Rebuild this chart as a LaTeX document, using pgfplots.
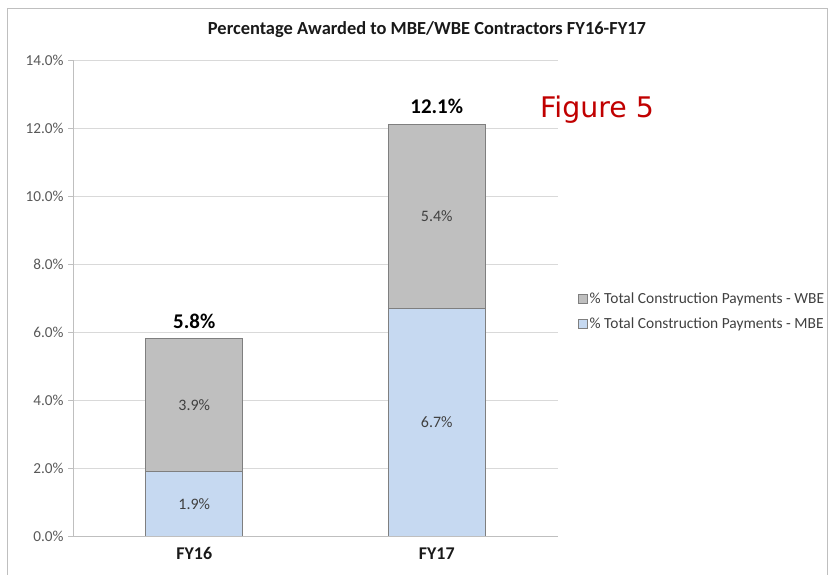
\documentclass[border=0pt]{standalone}
\usepackage{pgfplots}
\pgfplotsset{compat=1.18}
\usepackage{fontspec}
\setmainfont{Carlito}
\newfontfamily\figfont{DejaVu Sans}
\definecolor{wbe}{HTML}{BFBFBF}
\definecolor{mbe}{HTML}{C6D9F1}
\definecolor{barline}{HTML}{7F7F7F}
\definecolor{gridc}{HTML}{D9D9D9}
\definecolor{axc}{HTML}{BFBFBF}
\definecolor{tickc}{HTML}{595959}
\definecolor{labc}{HTML}{404040}
\definecolor{figred}{HTML}{C00000}
\begin{document}
\begin{tikzpicture}[x=1bp,y=1bp]
\useasboundingbox (0,0) rectangle (831,575);
\draw[color=axc,line width=0.8bp] (7,-10) rectangle (827,567);
\node[font=\fontsize{18.5}{21}\selectfont\bfseries, text=black!90] at (427,545) {Percentage Awarded to MBE/WBE Contractors FY16-FY17};
\node[font=\fontsize{28.5}{32}\selectfont\figfont, text=figred] at (597,465) {Figure 5};
\begin{axis}[
  at={(73bp,39bp)}, anchor=south west,
  scale only axis, width=485bp, height=476bp,
  ybar stacked, bar width=0.4,
  xmin=-0.5, xmax=1.5, ymin=0, ymax=14,
  xtick={0,1}, xticklabels={FY16,FY17},
  xtick style={draw=none},
  x tick label style={font=\fontsize{18}{20}\selectfont\bfseries, text=black!90, yshift=-3bp},
  ytick={0,2,...,14},
  yticklabel={\pgfmathprintnumber[fixed,fixed zerofill,precision=1]{\tick}\%},
  /pgf/number format/assume math mode=true,
  y tick label style={font=\fontsize{15.3}{17}\selectfont, text=tickc, xshift=-1bp},
  ymajorgrids, grid style={color=gridc, line width=0.8bp},
  axis x line*=bottom, axis y line*=left,
  axis line style={color=axc, line width=0.8bp, -},
  tick align=outside, major tick length=5bp,
  ytick style={color=axc, line width=0.8bp},
  legend style={at={(1.041,0.472)}, anchor=west, draw=none, fill=none,
    font=\fontsize{15.5}{17}\selectfont, text=labc, row sep=8bp,
    legend cell align=left, inner sep=0pt},
  legend image code/.code={\draw[#1, draw=barline, line width=0.6bp] (0bp,-4.5bp) rectangle (9bp,4.5bp);},
  reverse legend,
]
\addplot[fill=mbe, draw=barline, line width=0.8bp] coordinates {(0,1.9) (1,6.7)};
\addplot[fill=wbe, draw=barline, line width=0.8bp] coordinates {(0,3.9) (1,5.4)};
\legend{\% Total Construction Payments - MBE, \% Total Construction Payments - WBE}
\end{axis}
\begin{axis}[
  at={(73bp,39bp)}, anchor=south west,
  scale only axis, width=485bp, height=476bp,
  xmin=-0.5, xmax=1.5, ymin=0, ymax=14,
  hide axis,
]
\addplot[only marks, mark=none, point meta=explicit symbolic, nodes near coords,
  every node near coord/.append style={anchor=center, font=\fontsize{16}{18}\selectfont, text=labc}]
  coordinates {(0,0.95) [1.9\%] (1,3.35) [6.7\%] (0,3.85) [3.9\%] (1,9.4) [5.4\%]};
\addplot[only marks, mark=none, point meta=explicit symbolic, nodes near coords,
  every node near coord/.append style={anchor=south, yshift=7bp, font=\fontsize{21}{23}\selectfont\bfseries, text=black}]
  coordinates {(0,5.8) [5.8\%] (1,12.1) [12.1\%]};
\end{axis}
\end{tikzpicture}
\end{document}
